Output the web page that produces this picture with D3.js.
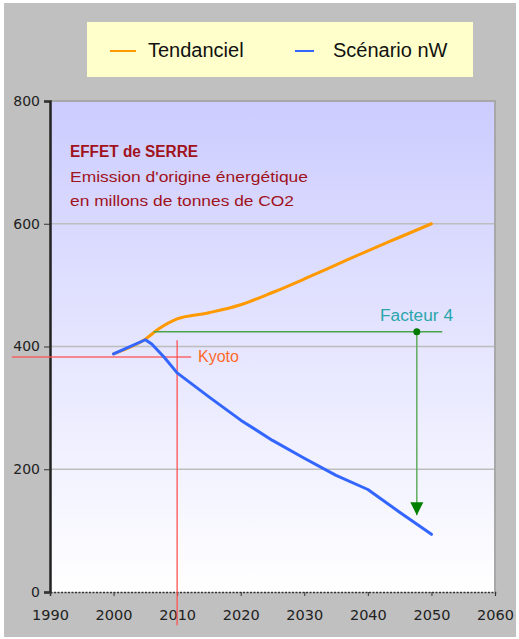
<!DOCTYPE html>
<html lang="fr">
<head>
<meta charset="utf-8">
<style type="text/css">
    body { margin: 0; background: #fff; }
    text { font-family: "Liberation Sans", Arial, sans-serif; }
</style>
</head>
<body>
<script src="https://cdn.jsdelivr.net/npm/d3@7"></script>
<script type="text/javascript">
    // Series
    var tendYears  = [2000, 2005, 2007, 2010, 2015, 2020, 2025, 2030, 2035, 2040, 2045, 2050];
    var tendValues = [388, 412, 428, 445, 455, 468, 488, 510, 533, 556, 578, 600];
    var nwYears    = [2000, 2005, 2006, 2008, 2010, 2015, 2020, 2025, 2030, 2035, 2040, 2045, 2050];
    var nwValues   = [388, 411, 404, 382, 357, 318, 280, 247, 218, 190, 167, 130, 94];
    var xTicks = [1990, 2000, 2010, 2020, 2030, 2040, 2050, 2060];
    var yTicks = [0, 200, 400, 600, 800];
    var legendNames = ["Tendanciel", "Scénario nW"];
    var titleLines = ["EFFET de SERRE", "Emission d'origine énergétique", "en millons de tonnes de CO2"];
    // annotations: Kyoto level and "Facteur 4" target
    var kyotoYear = 2010, kyotoValue = 383;
    var facteurValue = 424, facteurYear = 2047.7, facteurTarget = 125;

    var width = 519, height = 639;
    // note: "top" is reserved on window, so prefix these
    var plotLeft = 50, plotRight = 495, plotTop = 101, plotBottom = 592;

    var svg = d3.select("body").append("svg")
        .attr("width", width)
        .attr("height", height);

    var defs = svg.append("defs");
    var grad = defs.append("linearGradient")
        .attr("id", "bg").attr("x1", 0).attr("y1", 0).attr("x2", 0).attr("y2", 1);
    grad.append("stop").attr("offset", "0%").attr("stop-color", "#ccccff");
    grad.append("stop").attr("offset", "100%").attr("stop-color", "#ffffff");

    defs.append("marker")
        .attr("id", "arrow")
        .attr("viewBox", "0 -5 10 10")
        .attr("refX", 10).attr("refY", 0)
        .attr("markerUnits", "userSpaceOnUse")
        .attr("markerWidth", 13).attr("markerHeight", 14)
        .attr("orient", "auto")
        .append("path")
        .attr("d", "M0,-5L10,0L0,5Z")
        .attr("fill", "#008000");

    // outer grey panel
    svg.append("rect")
        .attr("x", 4).attr("y", 3).attr("width", 512).attr("height", 634)
        .attr("fill", "#c0c0c0");

    var x = d3.scaleLinear().domain([1990, 2060]).range([plotLeft, plotRight]);
    var y = d3.scaleLinear().domain([0, 800]).range([plotBottom, plotTop]);

    // plot area
    svg.append("rect")
        .attr("x", plotLeft).attr("y", plotTop)
        .attr("width", plotRight - plotLeft).attr("height", plotBottom - plotTop)
        .attr("fill", "url(#bg)");

    // grid
    svg.append("g")
        .selectAll("line")
        .data(yTicks.filter(function (d) { return d > 0; }))
        .enter().append("line")
        .attr("x1", plotLeft).attr("x2", plotRight)
        .attr("y1", function (d) { return y(d); })
        .attr("y2", function (d) { return y(d); })
        .attr("stroke", function (d) { return d == 800 ? "#a8a8a8" : "#bdbdbd"; })
        .attr("stroke-width", function (d) { return d == 800 ? 2 : 1.5; });

    // right border
    svg.append("line")
        .attr("x1", plotRight).attr("x2", plotRight).attr("y1", plotTop - 1).attr("y2", plotBottom)
        .attr("stroke", "#a8a8a8").attr("stroke-width", 2);

    // y axis
    var yAxis = svg.append("g")
        .attr("transform", "translate(" + plotLeft + ",0)")
        .call(d3.axisLeft(y).tickValues(yTicks).tickSize(6).tickPadding(4).tickFormat(d3.format("d")));
    yAxis.select(".domain").attr("stroke", "#222").attr("stroke-width", 2.5);
    yAxis.selectAll(".tick line").attr("stroke", "#333");
    yAxis.selectAll("text").attr("font-size", 14).attr("fill", "#222")
        .style("font-family", "'DejaVu Sans', sans-serif");

    // x axis
    var xAxis = svg.append("g")
        .attr("transform", "translate(0," + plotBottom + ")")
        .call(d3.axisBottom(x).tickValues(xTicks).tickSize(4).tickPadding(14).tickFormat(d3.format("d")));
    xAxis.select(".domain").attr("stroke", "#333").attr("stroke-width", 1.5)
        .attr("stroke-dasharray", "2,1.5");
    xAxis.selectAll(".tick line").attr("stroke", "#333");
    xAxis.selectAll("text").attr("font-size", 14.5).attr("fill", "#222")
        .style("font-family", "'DejaVu Sans', sans-serif");

    // title block
    svg.append("g")
        .selectAll("text")
        .data(titleLines)
        .enter().append("text")
        .attr("x", 70)
        .attr("y", function (d, i) { return 157 + i * 24.5; })
        .attr("fill", "#a0121c")
        .attr("font-size", function (d, i) { return i == 0 ? 16 : 15; })
        .attr("font-weight", function (d, i) { return i == 0 ? "bold" : "normal"; })
        .attr("textLength", function (d, i) { return [128, 238, 224][i]; })
        .attr("lengthAdjust", "spacingAndGlyphs")
        .text(function (d) { return d; });

    // series
    var smooth = d3.line()
        .x(function (d) { return x(d[0]); })
        .y(function (d) { return y(d[1]); })
        .curve(d3.curveMonotoneX);
    var straight = d3.line()
        .x(function (d) { return x(d[0]); })
        .y(function (d) { return y(d[1]); });

    var tend = tendYears.map(function (d, i) { return [d, tendValues[i]]; });
    var nw = nwYears.map(function (d, i) { return [d, nwValues[i]]; });

    svg.append("path").datum(tend)
        .attr("d", smooth).attr("fill", "none")
        .attr("stroke", "#ff9900").attr("stroke-width", 3).attr("stroke-linecap", "round");

    // Kyoto marks
    svg.append("line")
        .attr("x1", x(1984)).attr("x2", x(2012.2))
        .attr("y1", y(kyotoValue)).attr("y2", y(kyotoValue))
        .attr("stroke", "#ff5050").attr("stroke-opacity", 0.85).attr("stroke-width", 1.5);
    svg.append("line")
        .attr("x1", x(kyotoYear)).attr("x2", x(kyotoYear))
        .attr("y1", y(410)).attr("y2", y(-54))
        .attr("stroke", "#ff5050").attr("stroke-opacity", 0.85).attr("stroke-width", 1.5);
    svg.append("text")
        .attr("x", 198).attr("y", y(kyotoValue) + 5)
        .attr("fill", "#ff6a2a").attr("font-size", 16)
        .text("Kyoto");

    svg.append("path").datum(nw)
        .attr("d", straight).attr("fill", "none")
        .attr("stroke", "#3366ff").attr("stroke-width", 3)
        .attr("stroke-linecap", "round").attr("stroke-linejoin", "round");

    // Facteur 4
    svg.append("line")
        .attr("x1", x(2006.3)).attr("x2", x(2051.7))
        .attr("y1", y(facteurValue)).attr("y2", y(facteurValue))
        .attr("stroke", "#4aa34a").attr("stroke-width", 1.5);
    svg.append("line")
        .attr("x1", x(facteurYear)).attr("x2", x(facteurYear))
        .attr("y1", y(facteurValue)).attr("y2", y(facteurTarget))
        .attr("stroke", "#5fae5f").attr("stroke-width", 1.5)
        .attr("marker-end", "url(#arrow)");
    svg.append("circle")
        .attr("cx", x(facteurYear)).attr("cy", y(facteurValue)).attr("r", 3.5)
        .attr("fill", "#007a00");
    svg.append("text")
        .attr("x", 380).attr("y", y(facteurValue) - 11)
        .attr("fill", "#2aa6aa").attr("font-size", 16)
        .attr("textLength", 73).attr("lengthAdjust", "spacingAndGlyphs")
        .text("Facteur 4");

    // legend
    var legendColors = ["#ff9900", "#3366ff"];
    var legendX = [110, 295];
    svg.append("rect")
        .attr("x", 87).attr("y", 22).attr("width", 386).attr("height", 55)
        .attr("fill", "#ffffcc");
    var lg = svg.append("g").selectAll("g")
        .data(legendNames)
        .enter().append("g")
        .attr("transform", function (d, i) { return "translate(" + legendX[i] + ",51)"; });
    lg.append("line")
        .attr("x1", 0).attr("x2", function (d, i) { return i == 0 ? 26 : 19; })
        .attr("stroke", function (d, i) { return legendColors[i]; })
        .attr("stroke-width", 2);
    lg.append("text")
        .attr("x", 38)
        .attr("y", 6)
        .attr("font-size", 20)
        .attr("fill", "#111")
        .text(function (d) { return d; });
</script>
</body>
</html>
